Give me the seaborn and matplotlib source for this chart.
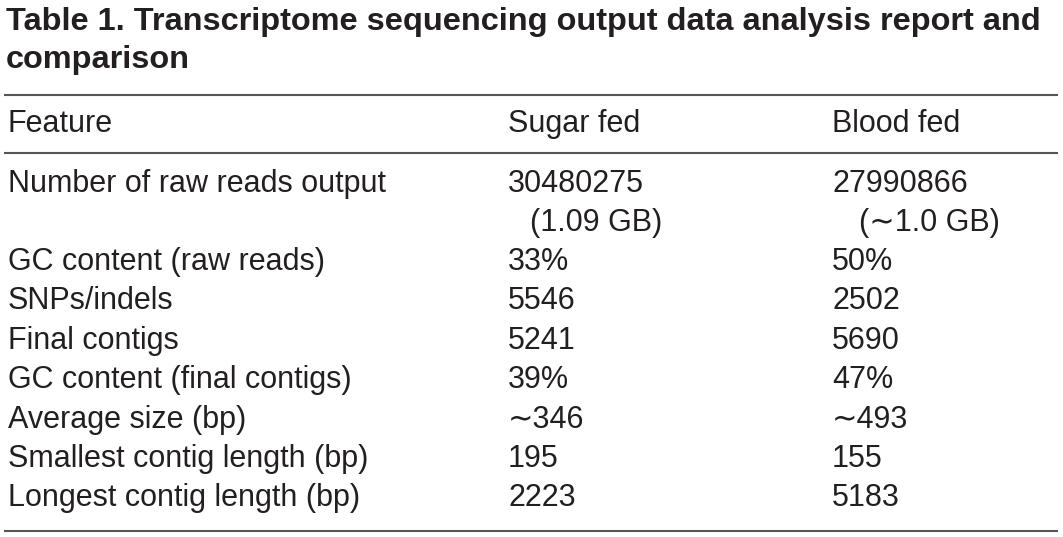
import matplotlib
matplotlib.use("Agg")
import matplotlib.pyplot as plt
import seaborn as sns

title_lines = ["Table 1. Transcriptome sequencing output data analysis report and",
               "comparison"]
columns = ["Feature", "Sugar fed", "Blood fed"]
features = ["Number of raw reads output", "GC content (raw reads)", "SNPs/indels",
            "Final contigs", "GC content (final contigs)", "Average size (bp)",
            "Smallest contig length (bp)", "Longest contig length (bp)"]
sugar_fed = ["30480275", "33%", "5546", "5241", "39%", "\u223c346", "195", "2223"]
blood_fed = ["27990866", "50%", "2502", "5690", "47%", "\u223c493", "155", "5183"]
# second line under the raw read counts
sugar_size = "(1.09 GB)"
blood_size = "(\u223c1.0 GB)"

sns.set_theme(style="white")
plt.rcParams["font.family"] = ["Liberation Sans", "DejaVu Sans"]
ink = "#231f20"

fig = plt.figure(figsize=(10.63, 5.37), dpi=100)
ax = fig.add_axes([0, 0, 1, 1])
ax.set_xlim(0, 1063)
ax.set_ylim(537, 0)
ax.axis("off")

fs = 22
col_x = [8, 508, 832]

for y, line in zip([30, 68], title_lines):
    ax.text(6, y, line, fontsize=23.4, fontweight="bold", color=ink,
            va="baseline", ha="left")

for y in [95, 153, 531]:
    ax.plot([4, 1058], [y, y], color="#555555", lw=1.5, solid_capstyle="butt")

for x, c in zip(col_x, columns):
    ax.text(x, 132, c, fontsize=fs, color=ink, va="baseline", ha="left")

row_y = [192, 270, 309, 349, 388, 428, 467, 506]
for y, f, s, b in zip(row_y, features, sugar_fed, blood_fed):
    ax.text(col_x[0], y, f, fontsize=fs, color=ink, va="baseline", ha="left")
    ax.text(col_x[1], y, s, fontsize=fs, color=ink, va="baseline", ha="left")
    ax.text(col_x[2], y, b, fontsize=fs, color=ink, va="baseline", ha="left")

ax.text(col_x[1] + 22, 231, sugar_size, fontsize=fs, color=ink, va="baseline", ha="left")
ax.text(col_x[2] + 27, 231, blood_size, fontsize=fs, color=ink, va="baseline", ha="left")

fig.savefig("out.png", dpi=100, facecolor="white")
